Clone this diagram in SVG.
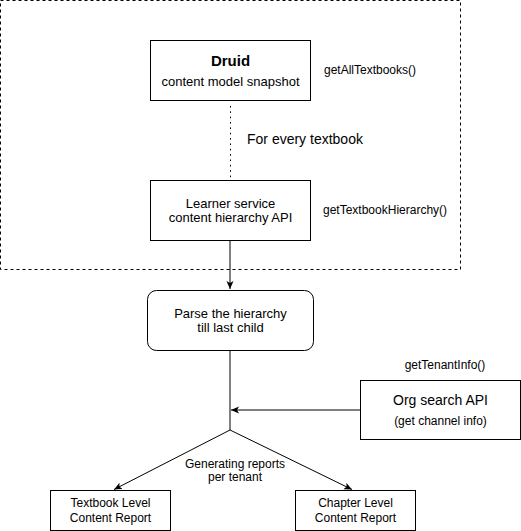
<svg xmlns="http://www.w3.org/2000/svg" width="521" height="531" viewBox="0 0 521 531">
<style>
text{font-family:"Liberation Sans",Arial,Helvetica,sans-serif;fill:#000}
.box{fill:#fff;stroke:#000;stroke-width:1}
.c{text-anchor:middle}
.f12{font-size:12px}
.f13{font-size:13px}
.f14{font-size:14px}
.edge{fill:none;stroke:#000;stroke-width:1}
</style>
<defs>
<marker id="arr" markerUnits="userSpaceOnUse" markerWidth="10" markerHeight="8" refX="8" refY="3.5" orient="auto">
<path d="M0,0 L8,3.5 L0,7 L2,3.5 Z" fill="#000"/>
</marker>
</defs>
<rect id="group" x="0.5" y="0.5" width="460" height="269" fill="none" stroke="#000" stroke-dasharray="3 3"/>
<g id="connectors">
<line class="edge" x1="230.5" y1="106" x2="230.5" y2="180" stroke-width="2" stroke-dasharray="1.6 3.75"/>
<line class="edge" x1="230" y1="240" x2="230" y2="289" marker-end="url(#arr)"/>
<polyline class="edge" points="230,350 230,430"/>
<line class="edge" x1="360" y1="410" x2="231" y2="410" marker-end="url(#arr)"/>
<line class="edge" x1="230" y1="430" x2="114" y2="489.5" marker-end="url(#arr)"/>
<line class="edge" x1="230" y1="430" x2="352" y2="489.5" marker-end="url(#arr)"/>
</g>
<g id="druid">
<rect class="box" x="150.5" y="40.5" width="160" height="60"/>
<text class="c" x="230.5" y="66" font-size="15" font-weight="bold">Druid</text>
<text class="c f13" x="230.5" y="85.5">content model snapshot</text>
</g>
<text id="lbl-getAll" class="f12" x="324" y="74">getAllTextbooks()</text>
<text id="lbl-every" class="f14" x="247" y="143.5">For every textbook</text>
<g id="learner">
<rect class="box" x="150.5" y="180.5" width="160" height="60"/>
<text class="c f13" x="230.5" y="207.5">Learner service</text>
<text class="c f13" x="230.5" y="222">content hierarchy API</text>
</g>
<text id="lbl-getHier" class="f12" x="323" y="214">getTextbookHierarchy()</text>
<g id="parse">
<rect class="box" x="147.5" y="290.5" width="166" height="60" rx="9" ry="9"/>
<text class="c f13" x="230.5" y="318">Parse the hierarchy</text>
<text class="c f13" x="230.5" y="332">till last child</text>
</g>
<text id="lbl-tenant" class="c f12" x="445" y="369">getTenantInfo()</text>
<g id="org">
<rect class="box" x="360.5" y="380.5" width="160" height="59"/>
<text class="c f14" x="440.5" y="405">Org search API</text>
<text class="c f12" x="440.5" y="425">(get channel info)</text>
</g>
<g id="lbl-generating">
<text class="c f12" x="235" y="467.5">Generating reports</text>
<text class="c f12" x="235" y="481">per tenant</text>
</g>
<g id="textbook-report">
<rect class="box" x="50.5" y="490.5" width="120" height="40"/>
<text class="c f12" x="110.5" y="507">Textbook Level</text>
<text class="c f12" x="110.5" y="521.5">Content Report</text>
</g>
<g id="chapter-report">
<rect class="box" x="295.5" y="490.5" width="120" height="40"/>
<text class="c f12" x="355.5" y="507">Chapter Level</text>
<text class="c f12" x="355.5" y="521.5">Content Report</text>
</g>
</svg>
